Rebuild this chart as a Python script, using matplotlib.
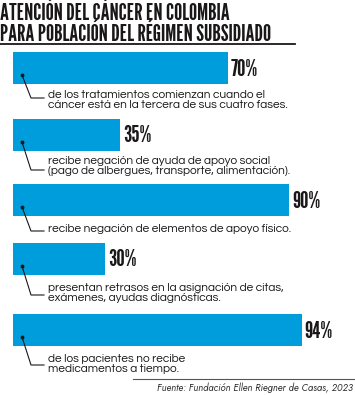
import matplotlib
matplotlib.use("Agg")
import matplotlib.pyplot as plt

W, H = 355, 395
DPI = 100

title_lines = ["ATENCIÓN DEL CÁNCER EN COLOMBIA",
               "PARA POBLACIÓN DEL RÉGIMEN SUBSIDIADO"]
values = [70, 35, 90, 30, 94]
labels = ["70%", "35%", "90%", "30%", "94%"]
descriptions = [
    "de los tratamientos comienzan cuando el\ncáncer está en la tercera de sus cuatro fases.",
    "recibe negación de ayuda de apoyo social\n(pago de albergues, transporte, alimentación).",
    "recibe negación de elementos de apoyo físico.",
    "presentan retrasos en la asignación de citas,\nexámenes, ayudas diagnósticas.",
    "de los pacientes no recibe\nmedicamentos a tiempo.",
]
source = "Fuente: Fundación Ellen Riegner de Casas, 2023"

# layout in pixel units (y grows downward)
bar_top = [52, 119, 184, 243, 314]
bar_h = 32
text_y = [100, 166, 229, 293, 364]
lead_y = [98, 170, 231, 295, 365]

BLUE = "#009ddc"
DARK = "#1a1718"
COND = ["League Gothic", "DejaVu Sans"]
BODY = ["Questrial", "DejaVu Sans"]

fig = plt.figure(figsize=(W / DPI, H / DPI), dpi=DPI)
fig.patch.set_facecolor("white")

# bars axis: 0-100 % maps to 307 px starting at x=13
ax = fig.add_axes([13 / W, 0, 307 / W, 1])
ax.set_xlim(0, 100)
ax.set_ylim(H, 0)
ax.axis("off")

# overlay in pixel coordinates for texts and leaders
px = fig.add_axes([0, 0, 1, 1], facecolor="none")
px.set_xlim(0, W)
px.set_ylim(H, 0)
px.axis("off")

for i, v in enumerate(values):
    ax.barh(bar_top[i] + bar_h / 2, v, height=bar_h, color=BLUE, align="center")
    ax.text(v + 1.0, bar_top[i] + bar_h / 2 + 1, labels[i], ha="left", va="center",
            fontsize=17, family=COND, color=DARK)
    # leader line
    dy = bar_top[i] + 23
    px.plot([22, 31, 44], [dy, lead_y[i], lead_y[i]], color=DARK, lw=0.8,
            solid_joinstyle="miter")
    px.plot([22], [dy], "o", ms=1.8, color=DARK)
    px.text(48, text_y[i], descriptions[i], ha="left", va="center",
            fontsize=8.6, color=DARK, linespacing=0.9, family=BODY)

# title
for j, t in enumerate(title_lines):
    px.text(0, 20 + 21 * j, t, ha="left", va="baseline", fontsize=16.6,
            family=COND, color=DARK)
px.plot([0, 295], [43.5, 43.5], color=DARK, lw=1.3)

# source
px.plot([133, 355], [379, 379], color="#555555", lw=0.8)
px.text(353, 388, source, ha="right", va="center", fontsize=6.9,
        style="italic", family=["Jost", "DejaVu Sans"], color="#333333")

fig.savefig("out.png", dpi=DPI)
